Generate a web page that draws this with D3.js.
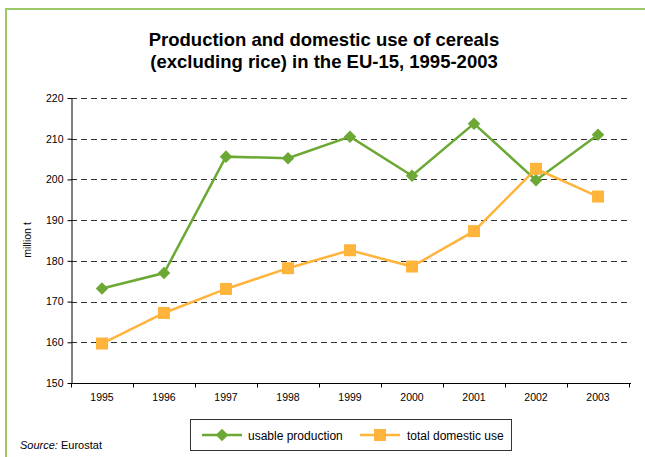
<!DOCTYPE html>
<html>
<head>
<meta charset="utf-8">
<script src="https://cdn.jsdelivr.net/npm/d3@7"></script>
<style>
  body { margin: 0; background: #fff; }
  svg { font-family: "Liberation Sans", Arial, sans-serif; }
</style>
</head>
<body>
<div id="chart"></div>
<script>
// Chart data
var years = ["1995", "1996", "1997", "1998", "1999", "2000", "2001", "2002", "2003"];
var usableProduction = [173.2, 177.0, 205.6, 205.2, 210.5, 200.9, 213.7, 199.8, 211.0];
var domesticUse = [159.7, 167.2, 173.1, 178.2, 182.6, 178.6, 187.3, 202.6, 195.8];
var yTicks = [150, 160, 170, 180, 190, 200, 210, 220];

var W = 645, H = 457;
var margin = { top: 98, right: 16, bottom: 74, left: 71 };
var width = W - margin.left - margin.right,   // 558
    height = H - margin.top - margin.bottom;  // 285

var svg = d3.select("#chart").append("svg")
    .attr("width", W)
    .attr("height", H);

// green frame, runs off the right and bottom of the picture
svg.append("rect")
    .attr("x", 6).attr("y", 9)
    .attr("width", W + 20).attr("height", H + 20)
    .attr("fill", "none")
    .attr("stroke", "#9cc867")
    .attr("stroke-width", 2);

// title
svg.append("text")
    .attr("x", 324).attr("y", 46)
    .attr("text-anchor", "middle")
    .style("font-size", "18.5px").style("font-weight", "bold")
    .text("Production and domestic use of cereals");
svg.append("text")
    .attr("x", 324).attr("y", 68)
    .attr("text-anchor", "middle")
    .style("font-size", "18.5px").style("font-weight", "bold")
    .text("(excluding rice) in the EU-15, 1995-2003");

var g = svg.append("g")
    .attr("transform", "translate(" + margin.left + "," + margin.top + ")");

var x = d3.scaleBand().domain(years).range([0, width]).padding(0);
var y = d3.scaleLinear().domain([150, 220]).range([height, 0]);
var cx = function (d, i) { return x(years[i]) + x.bandwidth() / 2; };

// dashed gridlines
g.selectAll(".grid")
    .data(yTicks.filter(function (t) { return t > 150; }))
    .enter().append("line")
    .attr("x1", 0).attr("x2", width - 2)
    .attr("y1", function (d) { return Math.round(y(d)) + 0.5; })
    .attr("y2", function (d) { return Math.round(y(d)) + 0.5; })
    .attr("stroke", "#333")
    .attr("stroke-width", 1)
    .attr("stroke-dasharray", "6,4");

// Y axis
var yAxis = g.append("g")
    .attr("transform", "translate(0.5,0)")
    .call(d3.axisLeft(y).tickValues(yTicks).tickSize(4).tickPadding(4).tickSizeOuter(0));
yAxis.selectAll("text").style("font-size", "10.5px").attr("fill", "#000");
yAxis.selectAll("line, path").attr("stroke", "#000");

// X axis: ticks between categories, labels at centres
var xAxisG = g.append("g")
    .attr("transform", "translate(0," + (height + 0.5) + ")");
xAxisG.append("line")
    .attr("x1", 0).attr("x2", width + 2)
    .attr("stroke", "#000");
var bounds = years.map(function (d) { return x(d); }).concat([width]);
xAxisG.selectAll(".tk").data(bounds).enter().append("line")
    .attr("x1", function (d) { return d + 0.5; })
    .attr("x2", function (d) { return d + 0.5; })
    .attr("y1", 0).attr("y2", 4)
    .attr("stroke", "#000");
xAxisG.selectAll(".lab").data(years).enter().append("text")
    .attr("x", function (d) { return x(d) + x.bandwidth() / 2; })
    .attr("y", 17)
    .attr("text-anchor", "middle")
    .style("font-size", "10.5px")
    .text(function (d) { return d; });

// y axis title
svg.append("text")
    .attr("transform", "translate(31,240) rotate(-90)")
    .attr("text-anchor", "middle")
    .style("font-size", "10.5px")
    .text("million t");

var green = "#6ca934", orange = "#ffb43c";

var line = d3.line()
    .x(cx)
    .y(function (d) { return y(d); });

// usable production
g.append("path").datum(usableProduction)
    .attr("fill", "none").attr("stroke", green).attr("stroke-width", 2.5)
    .attr("d", line);
g.selectAll(".dia").data(usableProduction).enter().append("path")
    .attr("transform", function (d, i) { return "translate(" + cx(d, i) + "," + y(d) + ")"; })
    .attr("d", d3.symbol(d3.symbolDiamond2, 100)())
    .attr("fill", green);

// total domestic use
g.append("path").datum(domesticUse)
    .attr("fill", "none").attr("stroke", orange).attr("stroke-width", 2.5)
    .attr("d", line);
g.selectAll(".sq").data(domesticUse).enter().append("rect")
    .attr("x", function (d, i) { return cx(d, i) - 6; })
    .attr("y", function (d) { return y(d) - 6; })
    .attr("width", 12).attr("height", 12)
    .attr("fill", orange);

// legend
var leg = svg.append("g");
leg.append("rect")
    .attr("x", 190.5).attr("y", 419.5)
    .attr("width", 321).attr("height", 31)
    .attr("fill", "#fff").attr("stroke", "#333").attr("stroke-width", 1);
leg.append("line").attr("x1", 202).attr("x2", 242).attr("y1", 435).attr("y2", 435)
    .attr("stroke", green).attr("stroke-width", 2.5);
leg.append("path").attr("transform", "translate(222,435)")
    .attr("d", d3.symbol(d3.symbolDiamond2, 100)()).attr("fill", green);
leg.append("text").attr("x", 248).attr("y", 439.5).style("font-size", "12px")
    .text("usable production");
leg.append("line").attr("x1", 360).attr("x2", 400).attr("y1", 435).attr("y2", 435)
    .attr("stroke", orange).attr("stroke-width", 2.5);
leg.append("rect").attr("x", 374).attr("y", 429).attr("width", 12).attr("height", 12)
    .attr("fill", orange);
leg.append("text").attr("x", 407).attr("y", 439.5).style("font-size", "12px")
    .text("total domestic use");

// source note
var src = svg.append("text").attr("x", 20).attr("y", 449).style("font-size", "11px");
src.append("tspan").style("font-style", "italic").text("Source:");
src.append("tspan").text(" Eurostat");
</script>
</body>
</html>
